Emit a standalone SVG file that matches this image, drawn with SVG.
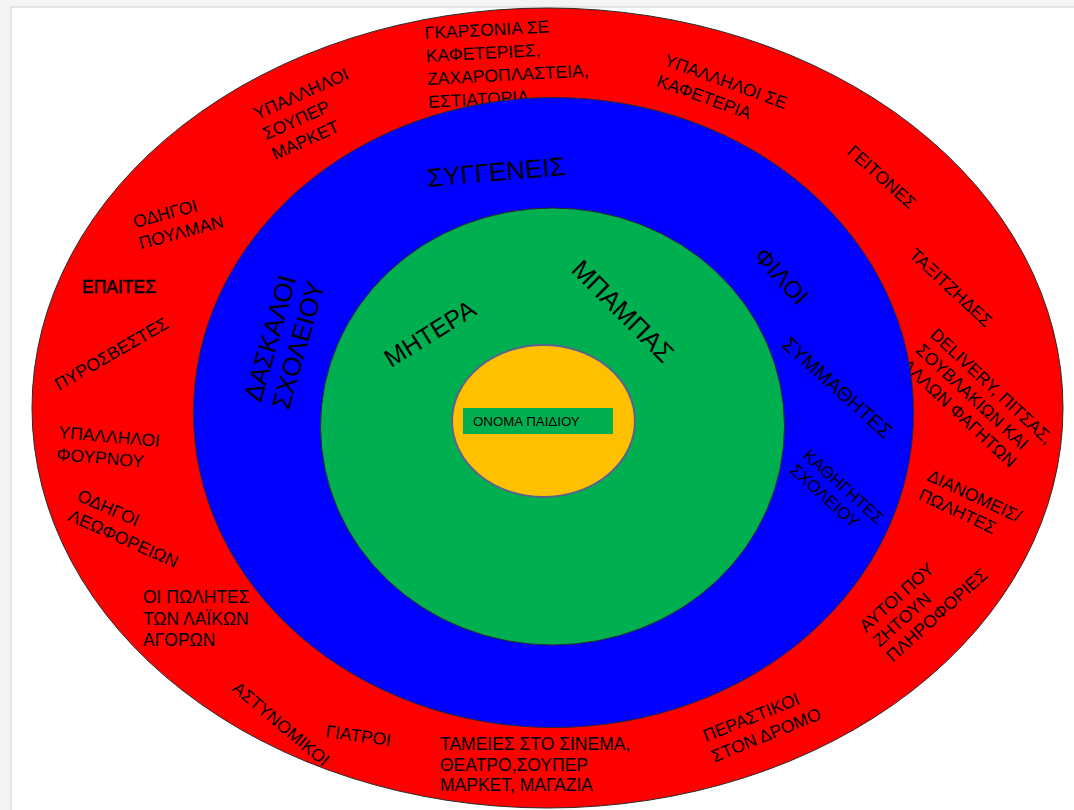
<svg xmlns="http://www.w3.org/2000/svg" width="1074" height="810" viewBox="0 0 1074 810">
<style>
text{font-family:"Liberation Sans",Arial,"Noto Sans",sans-serif;fill:#000}
.r{font-size:17.5px}
.ring{stroke:#2a2a2a;stroke-width:1}
</style>
<rect x="0" y="0" width="1074" height="810" fill="#f4f4f4"/>
<rect x="11" y="7" width="1070" height="810" fill="#ffffff" stroke="#dcdcdc" stroke-width="1.5"/>
<g id="connectors"/>
<g id="outer-ring">
<ellipse class="ring" cx="547.5" cy="408" rx="515.5" ry="400" fill="#ff0000"/>
<text class="r" transform="translate(425 39) rotate(-3)"><tspan x="0" y="0">ΓΚΑΡΣΟΝΙΑ ΣΕ</tspan><tspan x="0" y="23">ΚΑΦΕΤΕΡΙΕΣ,</tspan><tspan x="0" y="46">ΖΑΧΑΡΟΠΛΑΣΤΕΙΑ,</tspan><tspan x="0" y="69">ΕΣΤΙΑΤΟΡΙΑ</tspan></text>
<text class="r" transform="translate(257 120) rotate(-24)"><tspan x="0" y="0">ΥΠΑΛΛΗΛΟΙ</tspan><tspan x="0" y="22">ΣΟΥΠΕΡ</tspan><tspan x="0" y="44">ΜΑΡΚΕΤ</tspan></text>
<text class="r" transform="translate(663 65) rotate(20)"><tspan x="0" y="0">ΥΠΑΛΛΗΛΟΙ ΣΕ</tspan><tspan x="0" y="22">ΚΑΦΕΤΕΡΙΑ</tspan></text>
<text class="r" transform="translate(846 153) rotate(42)">ΓΕΙΤΟΝΕΣ</text>
<text class="r" transform="translate(908 256) rotate(43)">ΤΑΞΙΤΖΗΔΕΣ</text>
<text class="r" transform="translate(929 336) rotate(43)"><tspan x="0" y="0">DELIVERY, ΠΙΤΣΑΣ,</tspan><tspan x="0" y="21">ΣΟΥΒΛΑΚΙΩΝ ΚΑΙ</tspan><tspan x="0" y="42">ΑΛΛΩΝ ΦΑΓΗΤΩΝ</tspan></text>
<text class="r" transform="translate(926 480) rotate(25)"><tspan x="0" y="0">ΔΙΑΝΟΜΕΙΣ/</tspan><tspan x="0" y="21">ΠΩΛΗΤΕΣ</tspan></text>
<text class="r" transform="translate(866 633) rotate(-42)"><tspan x="0" y="0">ΑΥΤΟΙ ΠΟΥ</tspan><tspan x="0" y="20">ΖΗΤΟΥΝ</tspan><tspan x="0" y="40">ΠΛΗΡΟΦΟΡΙΕΣ</tspan></text>
<text class="r" transform="translate(706 742) rotate(-22)"><tspan x="0" y="0">ΠΕΡΑΣΤΙΚΟΙ</tspan><tspan x="0" y="22">ΣΤΟΝ ΔΡΟΜΟ</tspan></text>
<text class="r" transform="translate(440 750)"><tspan x="0" y="0">ΤΑΜΕΙΕΣ ΣΤΟ ΣΙΝΕΜΑ,</tspan><tspan x="0" y="20.5">ΘΕΑΤΡΟ,ΣΟΥΠΕΡ</tspan><tspan x="0" y="41">ΜΑΡΚΕΤ, ΜΑΓΑΖΙΑ</tspan></text>
<text class="r" transform="translate(325 737) rotate(8)">ΓΙΑΤΡΟΙ</text>
<text class="r" transform="translate(231 690) rotate(40)">ΑΣΤΥΝΟΜΙΚΟΙ</text>
<text class="r" transform="translate(143 603)"><tspan x="0" y="0">ΟΙ ΠΩΛΗΤΕΣ</tspan><tspan x="0" y="21.5">ΤΩΝ ΛΑΪΚΩΝ</tspan><tspan x="0" y="43">ΑΓΟΡΩΝ</tspan></text>
<text class="r" transform="translate(76 500) rotate(24)"><tspan x="0" y="0">ΟΔΗΓΟΙ</tspan><tspan x="0" y="22">ΛΕΩΦΟΡΕΙΩΝ</tspan></text>
<text class="r" transform="translate(58 438) rotate(5)"><tspan x="0" y="0">ΥΠΑΛΛΗΛΟΙ</tspan><tspan x="0" y="22">ΦΟΥΡΝΟΥ</tspan></text>
<text class="r" transform="translate(59 391) rotate(-30)">ΠΥΡΟΣΒΕΣΤΕΣ</text>
<text class="r" x="82" y="293" stroke="#000" stroke-width="0.45">ΕΠΑΙΤΕΣ</text>
<text class="r" transform="translate(135 228) rotate(-15)"><tspan x="0" y="0">ΟΔΗΓΟΙ</tspan><tspan x="0" y="22">ΠΟΥΛΜΑΝ</tspan></text>
</g>
<g id="middle-ring">
<ellipse class="ring" cx="553.5" cy="412.5" rx="360" ry="315" fill="#0000ff"/>
<text font-size="26" transform="translate(428 187) rotate(-5)">ΣΥΓΓΕΝΕΙΣ</text>
<text font-size="26" transform="translate(261 403) rotate(-74)"><tspan x="0" y="0">ΔΑΣΚΑΛΟΙ</tspan><tspan x="0" y="29">ΣΧΟΛΕΙΟΥ</tspan></text>
<text font-size="24" transform="translate(753 257) rotate(48)">ΦΙΛΟΙ</text>
<text font-size="20" transform="translate(781 346) rotate(42)">ΣΥΜΜΑΘΗΤΕΣ</text>
<text font-size="17" transform="translate(802 457) rotate(42)"><tspan x="0" y="0">ΚΑΘΗΓΗΤΕΣ</tspan><tspan x="0" y="19.5">ΣΧΟΛΕΙΟΥ</tspan></text>
</g>
<g id="inner-ring">
<ellipse class="ring" cx="552.5" cy="426.5" rx="232" ry="218.5" fill="#00b050"/>
<text font-size="25" transform="translate(391 368) rotate(-32)">ΜΗΤΕΡΑ</text>
<text font-size="26" transform="translate(570 271) rotate(45)">ΜΠΑΜΠΑΣ</text>
</g>
<g id="child">
<ellipse cx="543.5" cy="421" rx="91.5" ry="76" fill="#ffc000" stroke="#58638c" stroke-width="2"/>
<rect x="463" y="408" width="150" height="26" fill="#00b050"/>
<text x="473" y="426" font-size="13.3" fill="#1a1a1a">ΟΝΟΜΑ ΠΑΙΔΙΟΥ</text>
</g>
</svg>
